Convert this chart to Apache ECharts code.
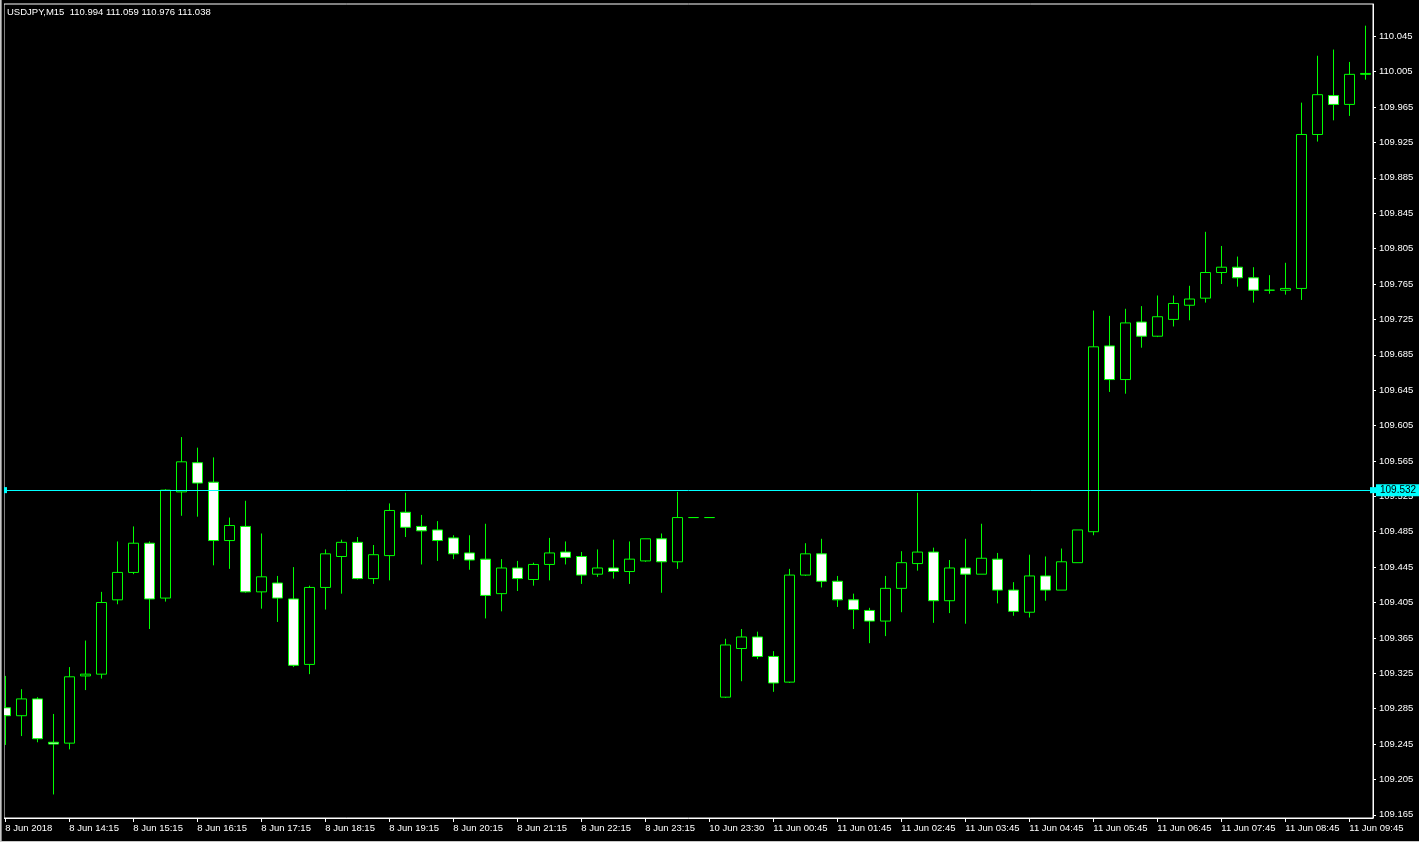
<!DOCTYPE html>
<html>
<head>
<meta charset="utf-8">
<script src="https://cdn.jsdelivr.net/npm/echarts@6/dist/echarts.min.js"></script>
<style>
html,body{margin:0;padding:0;background:#000;overflow:hidden;}
#c{width:1419px;height:842px;}
</style>
</head>
<body>
<div id="c"></div>
<script>
// ---- Data (USDJPY M15) ----
const opens = [109.286,109.277,109.296,109.247,109.246,109.322,109.324,109.408,109.439,109.472,
  109.410,109.530,109.563,109.541,109.475,109.491,109.417,109.427,109.409,109.335,
  109.422,109.457,109.473,109.432,109.458,109.507,109.491,109.487,109.478,109.461,
  109.454,109.415,109.444,109.431,109.448,109.462,109.457,109.437,109.444,109.440,
  109.452,109.477,109.451,109.501,109.501,109.298,109.353,109.366,109.344,109.315,
  109.436,109.460,109.429,109.408,109.396,109.384,109.421,109.449,109.462,109.407,
  109.444,109.437,109.454,109.419,109.394,109.435,109.419,109.450,109.485,109.695,
  109.657,109.722,109.706,109.725,109.741,109.749,109.778,109.784,109.772,109.758,
  109.758,109.760,109.934,109.978,109.968,110.002];
const closes = [109.277,109.296,109.251,109.245,109.321,109.324,109.405,109.439,109.472,109.409,
  109.532,109.564,109.540,109.475,109.492,109.417,109.434,109.410,109.334,109.422,
  109.460,109.473,109.432,109.459,109.509,109.490,109.486,109.475,109.460,109.453,
  109.413,109.444,109.432,109.448,109.461,109.456,109.436,109.444,109.440,109.454,
  109.477,109.451,109.501,109.501,109.501,109.357,109.366,109.344,109.314,109.436,
  109.460,109.429,109.408,109.397,109.384,109.421,109.450,109.462,109.407,109.444,
  109.437,109.455,109.419,109.395,109.435,109.419,109.451,109.487,109.694,109.657,
  109.721,109.706,109.728,109.743,109.748,109.778,109.784,109.772,109.758,109.758,
  109.760,109.934,109.979,109.968,110.002,110.003];
const lows = [109.244,109.254,109.247,109.188,109.239,109.306,109.319,109.403,109.437,109.375,
  109.406,109.503,109.502,109.447,109.443,109.416,109.398,109.383,109.332,109.324,
  109.397,109.415,109.431,109.426,109.430,109.479,109.448,109.452,109.454,109.442,
  109.387,109.395,109.418,109.424,109.430,109.448,109.426,109.434,109.432,109.426,
  109.451,109.416,109.443,109.501,109.501,109.297,109.316,109.341,109.304,109.314,
  109.435,109.422,109.400,109.375,109.359,109.367,109.394,109.441,109.382,109.393,
  109.381,109.437,109.404,109.390,109.388,109.407,109.419,109.450,109.481,109.643,
  109.641,109.693,109.705,109.717,109.724,109.744,109.765,109.762,109.744,109.754,
  109.753,109.747,109.926,109.950,109.955,109.996];
const highs = [109.322,109.307,109.298,109.279,109.332,109.362,109.417,109.474,109.491,109.474,
  109.533,109.592,109.580,109.569,109.501,109.520,109.483,109.435,109.445,109.424,
  109.465,109.476,109.479,109.470,109.517,109.529,109.504,109.497,109.481,109.481,
  109.494,109.454,109.452,109.450,109.478,109.474,109.462,109.465,109.476,109.474,
  109.477,109.483,109.530,109.501,109.501,109.364,109.375,109.372,109.350,109.443,
  109.472,109.477,109.435,109.415,109.399,109.435,109.463,109.529,109.467,109.453,
  109.477,109.494,109.461,109.428,109.459,109.457,109.466,109.487,109.735,109.729,
  109.737,109.740,109.752,109.752,109.763,109.824,109.808,109.796,109.784,109.775,
  109.789,109.970,110.023,110.030,110.016,110.057];

// Time-axis tick labels, one every 4 bars (1 hour)
const timeTickIndex = [0,4,8,12,16,20,24,28,32,36,40,44,48,52,56,60,64,68,72,76,80,84];
const timeTickLabels = ['8 Jun 2018','8 Jun 14:15','8 Jun 15:15','8 Jun 16:15','8 Jun 17:15',
  '8 Jun 18:15','8 Jun 19:15','8 Jun 20:15','8 Jun 21:15','8 Jun 22:15','8 Jun 23:15',
  '10 Jun 23:30','11 Jun 00:45','11 Jun 01:45','11 Jun 02:45','11 Jun 03:45','11 Jun 04:45',
  '11 Jun 05:45','11 Jun 06:45','11 Jun 07:45','11 Jun 08:45','11 Jun 09:45'];
// Price-axis tick labels
const priceTicks = [110.045,110.005,109.965,109.925,109.885,109.845,109.805,109.765,109.725,
  109.685,109.645,109.605,109.565,109.525,109.485,109.445,109.405,109.365,109.325,109.285,
  109.245,109.205,109.165];
const hLineLevel = 109.532;
const titleText = 'USDJPY,M15  110.994 111.059 110.976 111.038';

// ---- Build ----
const candles = opens.map((o, i) => [i, o, closes[i], lows[i], highs[i]]);
const FONT = 'Liberation Sans';
const GREEN = '#00ff00';

const chart = echarts.init(document.getElementById('c'), null, {renderer: 'canvas'});
chart.setOption({
  animation: false,
  backgroundColor: '#000000',
  title: {
    text: titleText, left: 7, top: 7, padding: 0,
    textStyle: {color: '#ffffff', fontSize: 9.5, fontWeight: 'normal', fontFamily: FONT}
  },
  grid: {
    left: 4, top: 4, right: 46, bottom: 24,
    show: true, borderColor: '#ffffff', borderWidth: 1, backgroundColor: '#000000'
  },
  graphic: [
    // mask the part of the first candle that lies left of the plot frame
    {type: 'rect', left: 0, top: 0, z: 100, silent: true,
     shape: {width: 4, height: 842}, style: {fill: '#000000'}},
    // window frame strips
    {type: 'rect', left: 0, top: 0, z: 101, silent: true,
     shape: {width: 1, height: 842}, style: {fill: '#c8c8c8'}},
    {type: 'rect', left: 1, top: 0, z: 101, silent: true,
     shape: {width: 1, height: 842}, style: {fill: '#808080'}},
    {type: 'rect', left: 0, bottom: 0, z: 101, silent: true,
     shape: {width: 1419, height: 1}, style: {fill: '#c8c8c8'}}
  ],
  xAxis: {
    type: 'value', min: -0.08, max: 85.48,
    axisLine: {show: true, onZero: false, lineStyle: {color: '#ffffff', width: 1}},
    axisTick: {show: true, customValues: timeTickIndex, length: 4, lineStyle: {color: '#ffffff'}},
    axisLabel: {
      show: true, customValues: timeTickIndex, color: '#ffffff', fontSize: 9.5, fontFamily: FONT,
      align: 'left', margin: 5,
      formatter: v => { const j = timeTickIndex.indexOf(Math.round(v)); return j >= 0 ? timeTickLabels[j] : ''; }
    },
    splitLine: {show: false}
  },
  yAxis: {
    type: 'value', position: 'right', min: 109.1614, max: 110.0815, scale: true,
    axisLine: {show: true, onZero: false, lineStyle: {color: '#ffffff', width: 1}},
    axisTick: {show: true, customValues: priceTicks, length: 3, lineStyle: {color: '#ffffff'}},
    axisLabel: {
      show: true, customValues: priceTicks, color: '#ffffff', fontSize: 9.5, fontFamily: FONT,
      margin: 6, formatter: v => v.toFixed(3)
    },
    splitLine: {show: false}
  },
  series: [{
    type: 'candlestick',
    data: candles,
    encode: {x: 0, y: [1, 2, 3, 4]},
    barWidth: 10,
    clip: true,
    itemStyle: {
      color: '#000000', color0: '#ffffff',
      borderColor: GREEN, borderColor0: GREEN, borderColorDoji: GREEN, borderWidth: 1
    },
    markLine: {
      silent: true, animation: false, precision: 3,
      symbol: ['rect', 'rect'], symbolSize: 6,
      lineStyle: {color: '#00ffff', width: 1, type: 'solid'},
      label: {
        show: true, position: 'end', distance: 3, formatter: '109.532',
        backgroundColor: '#00ffff', color: '#000000', fontSize: 10, fontFamily: FONT,
        padding: [1, 4, 1, 4]
      },
      data: [{yAxis: hLineLevel}]
    }
  }]
});
</script>
</body>
</html>
